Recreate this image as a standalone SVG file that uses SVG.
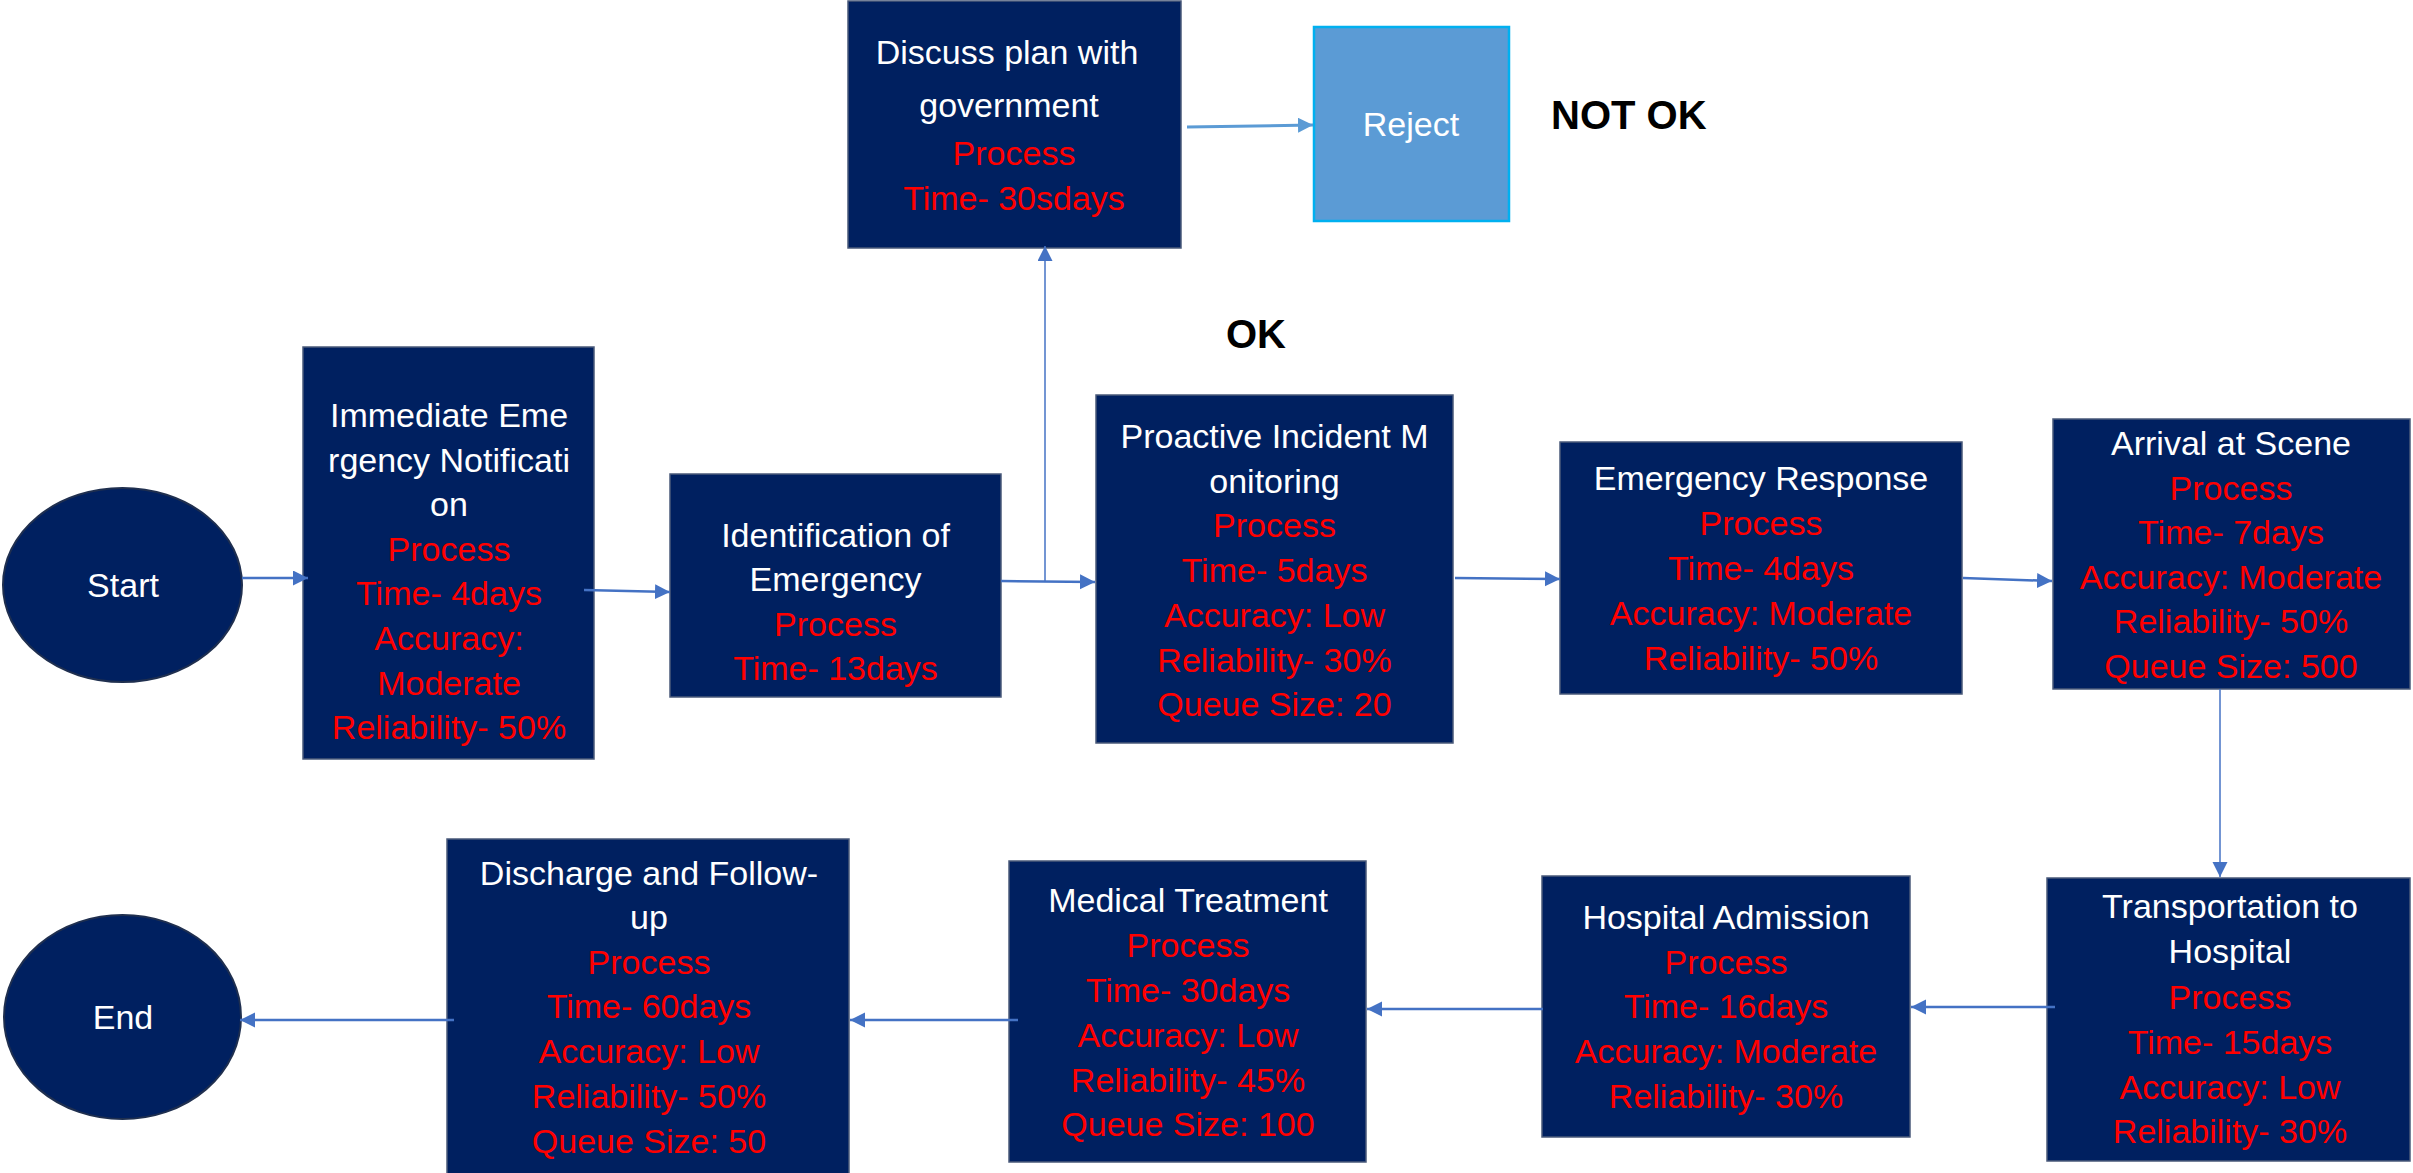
<svg xmlns="http://www.w3.org/2000/svg" width="2413" height="1173" viewBox="0 0 2413 1173">
<style>
.box{fill:#002060;stroke:#4A5A7A;stroke-width:1.5}
.ell{fill:#002060;stroke:#1F2F4F;stroke-width:2}
.t{font-family:"Liberation Sans",Arial,sans-serif;font-size:34px;text-anchor:middle}
.w{fill:#FFFFFF}
.r{fill:#FF0000}
.lbl{font-family:"Liberation Sans",Arial,sans-serif;font-size:40px;font-weight:bold;fill:#000000}
.c{stroke:#4472C4;stroke-width:2.5;fill:none}
.thin{stroke:#4472C4;stroke-width:1.5;fill:none}
</style>
<defs>
<marker id="ah" markerUnits="userSpaceOnUse" markerWidth="16" markerHeight="16" refX="15" refY="7.5" orient="auto">
<path d="M0,0 L15,7.5 L0,15 z" fill="#4472C4"/>
</marker>
<marker id="ah2" markerUnits="userSpaceOnUse" markerWidth="16" markerHeight="16" refX="15" refY="7.5" orient="auto">
<path d="M0,0 L15,7.5 L0,15 z" fill="#5B9BD5"/>
</marker>
</defs>
<rect width="2413" height="1173" fill="#FFFFFF"/>

<g id="start">
<ellipse class="ell" cx="122.5" cy="585" rx="119.5" ry="97"/>
<text class="t w" x="123" y="597">Start</text>
</g>

<g id="immediate">
<rect class="box" x="303" y="347" width="291" height="412"/>
<text class="t w" x="449" y="427">Immediate Eme</text>
<text class="t w" x="449" y="471.6">rgency Notificati</text>
<text class="t w" x="449" y="516.2">on</text>
<text class="t r" x="449" y="560.8">Process</text>
<text class="t r" x="449" y="605.4">Time- 4days</text>
<text class="t r" x="449" y="650">Accuracy:</text>
<text class="t r" x="449" y="694.6">Moderate</text>
<text class="t r" x="449" y="739.2">Reliability- 50%</text>
</g>

<g id="identification">
<rect class="box" x="670" y="474" width="331" height="223"/>
<text class="t w" x="835.5" y="547">Identification of</text>
<text class="t w" x="835.5" y="591">Emergency</text>
<text class="t r" x="835.5" y="636">Process</text>
<text class="t r" x="835.5" y="680">Time- 13days</text>
</g>

<g id="discuss">
<rect class="box" x="848" y="1" width="333" height="247"/>
<text class="t w" x="1007" y="64">Discuss plan with</text>
<text class="t w" x="1009" y="117">government</text>
<text class="t r" x="1014" y="165">Process</text>
<text class="t r" x="1014" y="210">Time- 30sdays</text>
</g>

<g id="reject">
<rect x="1314" y="27" width="195" height="194" fill="#5B9BD5" stroke="#00B0F0" stroke-width="2.5"/>
<text class="t w" x="1411" y="136">Reject</text>
</g>

<g id="label-notok">
<text class="lbl" x="1551" y="129">NOT OK</text>
</g>
<g id="label-ok">
<text class="lbl" x="1226" y="348">OK</text>
</g>

<g id="proactive">
<rect class="box" x="1096" y="395" width="357" height="348"/>
<text class="t w" x="1274.5" y="448">Proactive Incident M</text>
<text class="t w" x="1274.5" y="492.7">onitoring</text>
<text class="t r" x="1274.5" y="537.4">Process</text>
<text class="t r" x="1274.5" y="582.1">Time- 5days</text>
<text class="t r" x="1274.5" y="626.8">Accuracy: Low</text>
<text class="t r" x="1274.5" y="671.5">Reliability- 30%</text>
<text class="t r" x="1274.5" y="716.2">Queue Size: 20</text>
</g>

<g id="response">
<rect class="box" x="1560" y="442" width="402" height="252"/>
<text class="t w" x="1761" y="490">Emergency Response</text>
<text class="t r" x="1761" y="535">Process</text>
<text class="t r" x="1761" y="580">Time- 4days</text>
<text class="t r" x="1761" y="625">Accuracy: Moderate</text>
<text class="t r" x="1761" y="670">Reliability- 50%</text>
</g>

<g id="arrival">
<rect class="box" x="2053" y="419" width="357" height="270"/>
<text class="t w" x="2231" y="455">Arrival at Scene</text>
<text class="t r" x="2231" y="499.6">Process</text>
<text class="t r" x="2231" y="544.2">Time- 7days</text>
<text class="t r" x="2231" y="588.8">Accuracy: Moderate</text>
<text class="t r" x="2231" y="633.4">Reliability- 50%</text>
<text class="t r" x="2231" y="678">Queue Size: 500</text>
</g>

<g id="transport">
<rect class="box" x="2047" y="878" width="363" height="283"/>
<text class="t w" x="2230" y="918">Transportation to</text>
<text class="t w" x="2230" y="963">Hospital</text>
<text class="t r" x="2230" y="1009">Process</text>
<text class="t r" x="2230" y="1054">Time- 15days</text>
<text class="t r" x="2230" y="1099">Accuracy: Low</text>
<text class="t r" x="2230" y="1143">Reliability- 30%</text>
</g>

<g id="admission">
<rect class="box" x="1542" y="876" width="368" height="261"/>
<text class="t w" x="1726" y="929">Hospital Admission</text>
<text class="t r" x="1726" y="974">Process</text>
<text class="t r" x="1726" y="1018">Time- 16days</text>
<text class="t r" x="1726" y="1063">Accuracy: Moderate</text>
<text class="t r" x="1726" y="1108">Reliability- 30%</text>
</g>

<g id="treatment">
<rect class="box" x="1009" y="861" width="357" height="301"/>
<text class="t w" x="1188" y="912">Medical Treatment</text>
<text class="t r" x="1188" y="957">Process</text>
<text class="t r" x="1188" y="1002">Time- 30days</text>
<text class="t r" x="1188" y="1047">Accuracy: Low</text>
<text class="t r" x="1188" y="1092">Reliability- 45%</text>
<text class="t r" x="1188" y="1136">Queue Size: 100</text>
</g>

<g id="discharge">
<rect class="box" x="447" y="839" width="402" height="336"/>
<text class="t w" x="649" y="885">Discharge and Follow-</text>
<text class="t w" x="649" y="929">up</text>
<text class="t r" x="649" y="973.5">Process</text>
<text class="t r" x="649" y="1018">Time- 60days</text>
<text class="t r" x="649" y="1063">Accuracy: Low</text>
<text class="t r" x="649" y="1108">Reliability- 50%</text>
<text class="t r" x="649" y="1153">Queue Size: 50</text>
</g>

<g id="end">
<ellipse class="ell" cx="122.5" cy="1017" rx="118.5" ry="102"/>
<text class="t w" x="123" y="1029">End</text>
</g>

<g id="connectors">
<line class="c" x1="242" y1="578" x2="308" y2="578" marker-end="url(#ah)"/>
<line class="c" x1="584" y1="590" x2="670" y2="592" marker-end="url(#ah)"/>
<line class="c" x1="1001" y1="581" x2="1095" y2="582" marker-end="url(#ah)"/>
<line class="thin" x1="1045" y1="581" x2="1045" y2="246" marker-end="url(#ah)"/>
<line x1="1187" y1="127" x2="1313" y2="125" stroke="#5B9BD5" stroke-width="3" marker-end="url(#ah2)"/>
<line class="c" x1="1455" y1="578" x2="1560" y2="579" marker-end="url(#ah)"/>
<line class="c" x1="1963" y1="578" x2="2052" y2="581" marker-end="url(#ah)"/>
<line class="thin" x1="2220" y1="689" x2="2220" y2="877" marker-end="url(#ah)"/>
<line class="c" x1="2055" y1="1007" x2="1911" y2="1007" marker-end="url(#ah)"/>
<line class="c" x1="1543" y1="1009" x2="1367" y2="1009" marker-end="url(#ah)"/>
<line class="c" x1="1018" y1="1020" x2="850" y2="1020" marker-end="url(#ah)"/>
<line class="c" x1="454" y1="1020" x2="240" y2="1020" marker-end="url(#ah)"/>
</g>
</svg>
